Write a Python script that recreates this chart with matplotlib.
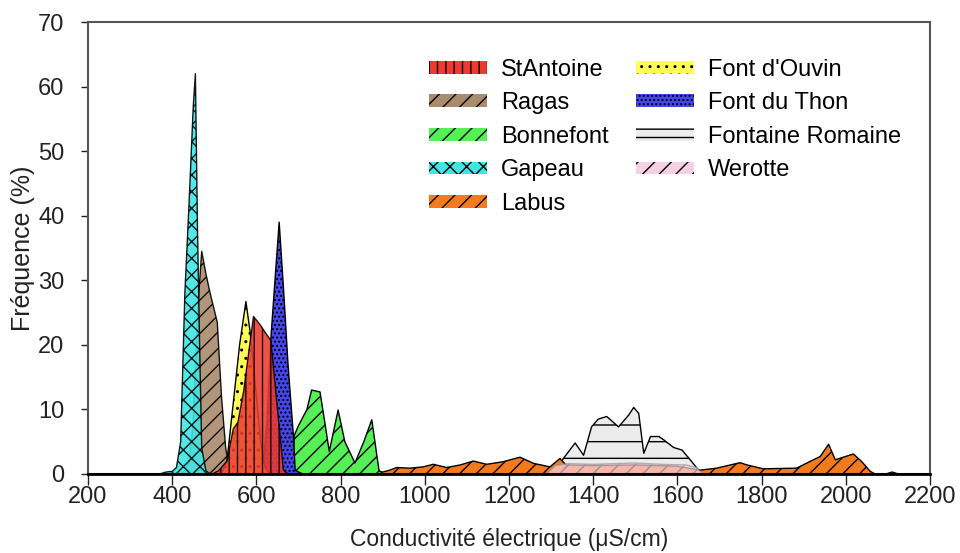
import matplotlib
matplotlib.use('Agg')
import matplotlib.pyplot as plt
from matplotlib.patches import Patch

plt.rcParams['font.family'] = ['Liberation Sans', 'DejaVu Sans']
plt.rcParams['hatch.linewidth'] = 1.0

# distributions de conductivite
gapeau_x = [370, 385, 400, 410, 420, 430, 440, 450, 455, 460, 465, 470, 480, 490]
gapeau_y = [0, 0.3, 0.4, 1, 5, 28, 42, 57, 62, 38, 20, 4, 0.5, 0]

ragas_x = [420, 430, 440, 450, 460, 470, 480, 490, 507, 517, 527, 537, 545]
ragas_y = [0, 0.5, 2, 8, 25, 34.5, 31, 28, 23.5, 12, 4, 0.5, 0]

ouvin_x = [510, 520, 530, 540, 550, 560, 575, 585, 600, 610, 620, 630]
ouvin_y = [0, 0.5, 2, 8, 14, 20, 26.7, 22, 12, 5, 1, 0]

stantoine_x = [495, 510, 530, 545, 556, 570, 580, 593, 610, 620, 634, 650, 664, 675]
stantoine_y = [0, 0.5, 2, 7, 8, 13, 18, 24.4, 23, 22, 20.7, 10, 0.6, 0]

thon_x = [600, 615, 625, 634, 644, 654, 665, 675, 688, 692, 700, 710]
thon_y = [0, 1, 8, 20.7, 30, 39, 28, 17, 5.8, 0.6, 0.3, 0]

bonnefont_x = [685, 690, 700, 720, 731, 751, 760, 773, 794, 810, 834, 855, 874, 891, 900]
bonnefont_y = [0, 6, 7.5, 10, 13, 12.7, 9, 3.5, 9.9, 5, 1.7, 5, 8.4, 0.6, 0]

labus_x = [690, 700, 720, 760, 800, 840, 880, 900, 917, 933, 965, 996, 1020, 1052,
           1084, 1115, 1147, 1186, 1226, 1258, 1297, 1321, 1335, 1400, 1500, 1600,
           1654, 1693, 1749, 1765, 1804, 1883, 1923, 1939, 1959, 1975, 1994, 2018,
           2038, 2058, 2070]
labus_y = [0, 0.4, 0.5, 0.5, 0.6, 0.5, 0.5, 0.3, 0.6, 1.0, 0.9, 1.1, 1.5, 1.0,
           1.4, 2.0, 1.5, 1.9, 2.6, 1.65, 1.1, 2.4, 1.4, 1.3, 1.4, 1.2,
           0.6, 0.9, 1.75, 1.4, 0.8, 0.9, 2.2, 2.7, 4.6, 2.2, 2.6, 3.1,
           1.9, 0.4, 0]

romaine_x = [1300, 1315, 1329, 1357, 1377, 1396, 1412, 1432, 1460, 1484, 1496, 1508,
             1520, 1536, 1556, 1567, 1591, 1611, 1634, 1650, 1660, 2095, 2110, 2125]
romaine_y = [0, 1.0, 2.4, 4.8, 2.9, 7.3, 8.5, 8.9, 7.3, 9.1, 10.3, 9.4,
             3.2, 5.8, 5.8, 5.3, 4.1, 3.7, 1.9, 0.6, 0, 0, 0.3, 0]

werotte_x = [1290, 1310, 1340, 1400, 1450, 1500, 1560, 1620, 1645, 1660]
werotte_y = [0, 1.3, 1.6, 1.5, 1.6, 1.7, 1.5, 1.4, 1.0, 0]

fig = plt.figure(figsize=(9.6, 5.53), dpi=100)
ax = fig.add_axes([0.0917, 0.1429, 0.8771, 0.8173])

styles = {
    'StAntoine': dict(fc='#ee3a30', hatch='||', alpha=0.88),
    'Ragas': dict(fc='#a98b6d', hatch='//', alpha=0.9),
    'Bonnefont': dict(fc='#55f055', hatch='//', alpha=1.0),
    'Gapeau': dict(fc='#3ee6e6', hatch='xx', alpha=0.9),
    'Labus': dict(fc='#f57a1e', hatch='//', alpha=1.0),
    "Font d'Ouvin": dict(fc='#ffff55', hatch='..', alpha=1.0),
    'Font du Thon': dict(fc='#4646ee', hatch='....', alpha=1.0),
    'Fontaine Romaine': dict(fc='#ececec', hatch='-', alpha=1.0),
    'Werotte': dict(fc='#f8d0e4', hatch='//', alpha=0.7),
}

# ordre de trace (du fond vers l'avant)
series = [
    ('Fontaine Romaine', romaine_x, romaine_y),
    ('Labus', labus_x, labus_y),
    ('Werotte', werotte_x, werotte_y),
    ('Bonnefont', bonnefont_x, bonnefont_y),
    ('Ragas', ragas_x, ragas_y),
    ('Gapeau', gapeau_x, gapeau_y),
    ('Font du Thon', thon_x, thon_y),
    ("Font d'Ouvin", ouvin_x, ouvin_y),
    ('StAntoine', stantoine_x, stantoine_y),
]

for name, xs, ys in series:
    st = styles[name]
    ec = '#999999' if name == 'Werotte' else 'black'
    ax.fill_between(xs, ys, 0, facecolor=st['fc'], edgecolor=ec, hatch=st['hatch'],
                    alpha=st['alpha'], linewidth=1.0)

ax.axhline(0, color='black', lw=2.2, zorder=5)

ax.set_xlim(200, 2200)
ax.set_ylim(0, 70)
ax.set_xticks(range(200, 2201, 200))
ax.set_yticks(range(0, 71, 10))
ax.tick_params(axis='both', labelsize=17, colors='#222222', width=1)
ax.tick_params(axis='x', length=8, pad=1)
ax.tick_params(axis='y', length=5, pad=12)
for s in ['top', 'right', 'left']:
    ax.spines[s].set_color('#555555')
    ax.spines[s].set_linewidth(1.5)
ax.spines['bottom'].set_linewidth(2)

ax.set_xlabel('Conductivité électrique (μS/cm)', fontsize=16.5, color='#222222', labelpad=14)
ax.set_ylabel('Fréquence (%)', fontsize=18, color='#222222', labelpad=2)

order = ['StAntoine', 'Ragas', 'Bonnefont', 'Gapeau', 'Labus',
         "Font d'Ouvin", 'Font du Thon', 'Fontaine Romaine', 'Werotte']
handles = []
for name in order:
    st = styles[name]
    h = '--' if name == 'Fontaine Romaine' else st['hatch']
    handles.append(Patch(facecolor=st['fc'], hatch=h, edgecolor='black',
                         linewidth=0, label=name))
handles.append(Patch(visible=False, label=''))
ax.legend(handles=handles, ncol=2, loc='upper left', bbox_to_anchor=(0.391, 0.945),
          frameon=False, fontsize=17, handlelength=2.45, handleheight=0.45,
          handletextpad=0.6, columnspacing=1.15, labelspacing=0.49, borderpad=0)

fig.savefig('out.png', dpi=100)
